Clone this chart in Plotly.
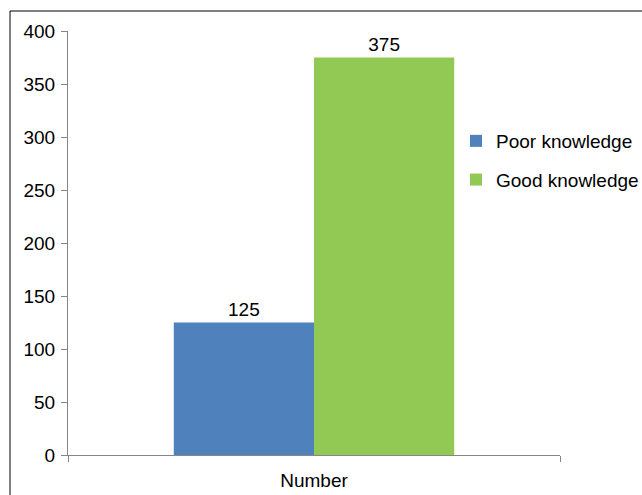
import plotly.graph_objects as go

categories = ["Number"]
series_names = ["Poor knowledge", "Good knowledge"]
poor_values = [125]
good_values = [375]
y_ticks = [0, 50, 100, 150, 200, 250, 300, 350, 400]

colors = ["#4F81BD", "#92C955"]
FONT = "Liberation Sans, Arial, sans-serif"
FS = 19

fig = go.Figure()
for name, vals, col in zip(series_names, [poor_values, good_values], colors):
    fig.add_trace(go.Bar(
        x=categories, y=vals, name=name, marker=dict(color=col, line=dict(width=0)),
        text=[str(v) for v in vals], textposition="outside",
        textfont=dict(size=FS, color="#000000", family=FONT),
        cliponaxis=False, legendgroup=name,
    ))

L, R, T, B = 68, 560, 31, 455
W, H = 642, 495
pw, ph = R - L, B - T

fig.update_layout(
    width=W, height=H,
    margin=dict(l=L, r=W - R, t=T, b=H - B, pad=0, autoexpand=False),
    paper_bgcolor="white", plot_bgcolor="white",
    barmode="group", bargap=0.43, bargroupgap=0,
    font=dict(family=FONT, size=FS, color="#000000"),
    showlegend=True,
    legend=dict(
        x=(456 - L) / pw, y=(B - 122) / ph, xanchor="left", yanchor="top",
        font=dict(size=FS, family=FONT, color="#000000"),
        bgcolor="rgba(0,0,0,0)", tracegroupgap=11, itemwidth=30,
        traceorder="grouped",
    ),
    xaxis=dict(
        showline=True, linecolor="#868686", linewidth=1,
        ticks="outside", tickson="boundaries", ticklen=6, tickcolor="#868686",
        showgrid=False, tickfont=dict(size=FS, family=FONT, color="#000000"),
        zeroline=False, ticklabelstandoff=8, automargin=False,
    ),
    yaxis=dict(
        range=[0, 400], tickvals=y_ticks, showline=True, linecolor="#868686", linewidth=1,
        ticks="outside", ticklen=6, tickcolor="#868686", showgrid=False, zeroline=False,
        tickfont=dict(size=FS, family=FONT, color="#000000"), ticklabelstandoff=2,
        automargin=False,
    ),
    shapes=[dict(
        type="rect", xref="paper", yref="paper",
        x0=(10 - L) / pw, x1=(700 - L) / pw,
        y0=(B - 600) / ph, y1=(B - 11) / ph,
        line=dict(color="#000000", width=1), fillcolor="rgba(0,0,0,0)", layer="below",
    )],
)

fig.write_html("out.html")
